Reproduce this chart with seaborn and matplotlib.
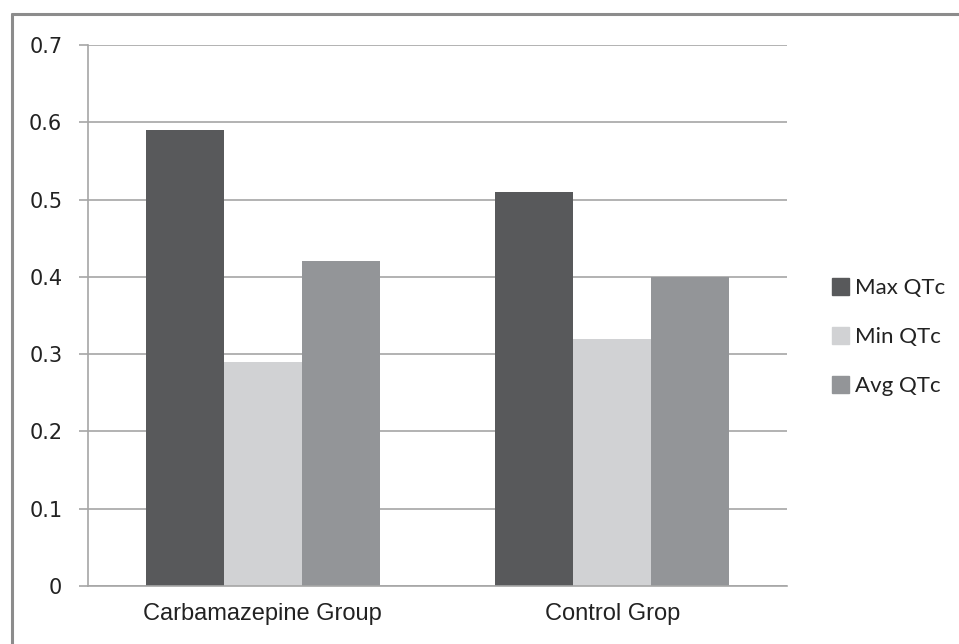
import matplotlib
matplotlib.use('Agg')

import matplotlib.pyplot as plt
import pandas as pd
import seaborn as sns
from matplotlib.lines import Line2D

groups = ['Carbamazepine Group', 'Control Grop']
series = ['Max QTc', 'Min QTc', 'Avg QTc']
max_qtc = [0.59, 0.51]
min_qtc = [0.29, 0.32]
avg_qtc = [0.42, 0.40]
y_ticks = [0, 0.1, 0.2, 0.3, 0.4, 0.5, 0.6, 0.7]
tick_labels = ['0', '0.1', '0.2', '0.3', '0.4', '0.5', '0.6', '0.7']

colors = ['#58595b', '#d1d2d4', '#939598']
axis_gray = '#a6a6a6'

df = pd.DataFrame({
    'group': groups * 3,
    'series': [s for s in series for _ in groups],
    'value': max_qtc + min_qtc + avg_qtc,
})

sns.set_style('white')
plt.rcParams['font.family'] = ['Liberation Sans', 'DejaVu Sans']

fig = plt.figure(figsize=(9.59, 6.44), dpi=100)
ax = fig.add_axes([88 / 959, 1 - 586 / 644, (787 - 88) / 959, (586 - 45) / 644])

sns.barplot(data=df, x='group', y='value', hue='series', hue_order=series,
            order=groups, palette=colors, width=0.67, saturation=1,
            edgecolor='none', linewidth=0, ax=ax, legend=False)

ax.set_xlim(-0.5, 1.5)
ax.set_ylim(0, 0.7)
ax.set_yticks(y_ticks)
ax.set_yticklabels(tick_labels, fontsize=15, color='#222222', family='DejaVu Sans')
ax.set_xticks([0, 1])
ax.set_xticklabels(groups, fontsize=17, color='#222222')
ax.set_xticks([-0.5, 0.5, 1.5], minor=True)
ax.tick_params(axis='x', which='major', length=0, pad=12)
ax.tick_params(axis='x', which='minor', length=6, width=1.2, color=axis_gray, direction='out')
ax.tick_params(axis='y', length=6.5, width=1.2, color=axis_gray, direction='out', pad=12, left=True)
ax.set_xlabel('')
ax.set_ylabel('')

ax.yaxis.grid(True, color=axis_gray, linewidth=1.2)
ax.set_axisbelow(True)
for side in ['top', 'right']:
    ax.spines[side].set_visible(False)
for side in ['left', 'bottom']:
    ax.spines[side].set_color(axis_gray)
    ax.spines[side].set_linewidth(1.2)

handles = [plt.Rectangle((0, 0), 1, 1, color=c) for c in colors]
fig.legend(handles, series, loc='center left', bbox_to_anchor=(812 / 959, 1 - 337 / 644),
           frameon=False, handlelength=0.78, handleheight=0.78,
           handletextpad=0.25, labelspacing=1.3, prop={'family': 'Lato', 'size': 16},
           labelcolor='#222222')

# outer frame (top and left edges only, as in the source)
fig.add_artist(Line2D([12 / 959, 1], [1 - 14 / 644, 1 - 14 / 644], color='#8c8c8c', linewidth=2.2))
fig.add_artist(Line2D([12 / 959, 12 / 959], [0, 1 - 14 / 644], color='#8c8c8c', linewidth=2.2))

plt.savefig('out.png', dpi=100)
plt.close()
